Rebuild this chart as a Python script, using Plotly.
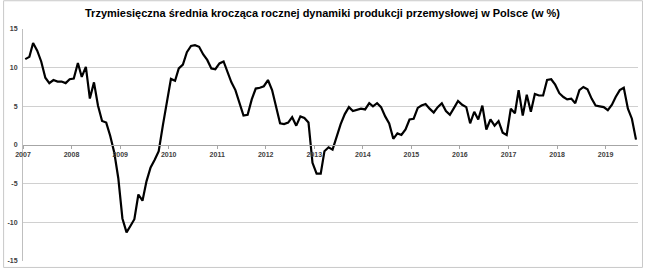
import pandas as pd
import plotly.graph_objects as go

TITLE = "Trzymiesięczna średnia krocząca rocznej dynamiki produkcji przemysłowej w Polsce (w %)"

v2007 = [11.1, 11.4, 13.2, 12.2, 10.8, 8.7, 8.0, 8.4, 8.2, 8.2, 8.0, 8.5]
v2008 = [8.6, 10.6, 8.8, 10.1, 6.0, 8.1, 5.1, 3.1, 2.9, 1.2, -1.0, -4.3]
v2009 = [-9.5, -11.3, -10.5, -9.6, -6.4, -7.2, -4.7, -2.9, -1.9, -0.8, 2.5, 5.4]
v2010 = [8.55, 8.3, 9.9, 10.4, 12.0, 12.8, 12.9, 12.7, 11.7, 11.0, 9.9, 9.8]
v2011 = [10.55, 10.8, 9.5, 8.1, 7.1, 5.5, 3.8, 3.9, 5.9, 7.3, 7.4, 7.6]
v2012 = [8.4, 7.1, 4.9, 2.8, 2.7, 2.9, 3.6, 2.5, 3.7, 3.5, 2.9, -2.3]
v2013 = [-3.7, -3.7, -0.8, -0.3, -0.6, 1.2, 2.7, 4.0, 4.9, 4.4, 4.6, 4.7]
v2014 = [4.6, 5.4, 5.0, 5.4, 4.9, 3.7, 2.8, 0.8, 1.5, 1.3, 2.0, 3.3]
v2015 = [3.4, 4.8, 5.1, 5.3, 4.7, 4.2, 4.9, 5.4, 4.4, 3.9, 4.8, 5.7]
v2016 = [5.2, 4.9, 2.8, 4.3, 3.3, 5.1, 2.0, 3.3, 2.5, 3.1, 1.6, 1.3]
v2017 = [4.7, 4.1, 7.1, 3.8, 6.5, 4.3, 6.6, 6.4, 6.4, 8.4, 8.5, 7.8]
v2018 = [6.7, 6.2, 5.9, 6.0, 5.4, 7.1, 7.5, 7.2, 6.0, 5.1, 5.0, 4.9]
v2019 = [4.5, 5.2, 6.2, 7.1, 7.4, 4.7, 3.4, 0.7]

years = [str(y) for y in range(2007, 2020)]
y_ticks = [-15, -10, -5, 0, 5, 10, 15]

values = (v2007 + v2008 + v2009 + v2010 + v2011 + v2012 + v2013 + v2014
          + v2015 + v2016 + v2017 + v2018 + v2019)
dates = pd.date_range("2007-01-01", periods=len(values), freq="MS") + pd.Timedelta(days=17)

fig = go.Figure()
fig.add_trace(go.Scatter(x=dates, y=values, mode="lines",
                         line=dict(color="black", width=2.2), showlegend=False))

tickfont = dict(family="Liberation Sans", size=7, color="#404040", weight="bold")

fig.update_layout(
    width=645, height=271,
    margin=dict(l=20, r=7, t=29, b=8, pad=0),
    paper_bgcolor="white", plot_bgcolor="white",
    title=dict(text=TITLE, x=0.5, xref="container", xanchor="center",
               y=1 - 13 / 271, yref="container", yanchor="middle",
               font=dict(family="Liberation Sans", size=11,
                         color="black", weight="bold")),
    xaxis=dict(type="date", range=["2007-01-01", "2019-09-02"],
               anchor="free", position=0.5,
               showline=True, linecolor="#a6a6a6", linewidth=1,
               ticks="outside", ticklen=3, tickcolor="#a6a6a6",
               showgrid=False, zeroline=False,
               tickvals=[f"{y}-01-01" for y in years], ticktext=years,
               tickfont=tickfont),
    yaxis=dict(range=[-15, 15], tickvals=y_ticks,
               ticktext=[str(t) for t in y_ticks],
               showgrid=True, gridcolor="#d0d0d0", gridwidth=1,
               zeroline=False, showline=True, linecolor="#bfbfbf",
               ticks="", ticklabelstandoff=3, tickfont=tickfont),
    shapes=[dict(type="rect", xref="paper", yref="paper",
                 x0=(0.5 - 20) / 618, x1=(642.5 - 20) / 618,
                 y0=(263 - 269.5) / 234, y1=(263 - 0.5) / 234,
                 line=dict(color="#c8c8c8", width=1), fillcolor="rgba(0,0,0,0)",
                 layer="below")],
)

fig.write_html("out.html")
